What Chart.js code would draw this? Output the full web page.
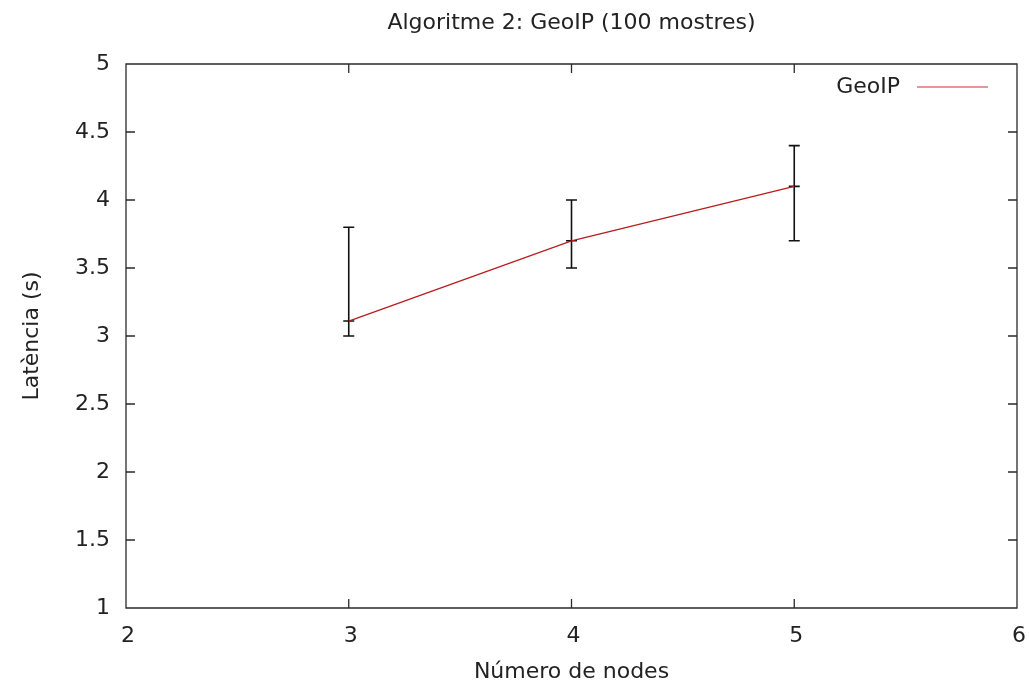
<!DOCTYPE html>
<html>
<head>
<meta charset="utf-8">
<script src="https://cdn.jsdelivr.net/npm/chart.js@4.4.1/dist/chart.umd.min.js"></script>
<style>
  html, body { margin: 0; padding: 0; background: #ffffff; }
  #wrap { width: 1029px; height: 689px; }
</style>
</head>
<body>
<div id="wrap"><canvas id="c" width="1029" height="689"></canvas></div>
<script>
// ---- data ----
const nodes = [3, 4, 5];
const latencyMean = [3.11, 3.70, 4.10];
const latencyLow = [3.00, 3.50, 3.70];
const latencyHigh = [3.80, 4.00, 4.40];
const seriesName = 'GeoIP';
const chartTitle = 'Algoritme 2: GeoIP (100 mostres)';
const xTitle = 'Número de nodes';
const yTitle = 'Latència (s)';
const xTicks = [2, 3, 4, 5, 6];
const yTicks = [1, 1.5, 2, 2.5, 3, 3.5, 4, 4.5, 5];

const FONT = "'DejaVu Sans', sans-serif";
const TEXT = '#222222';
const AXIS = '#2a2a2a';
const LINE = '#b81c1c';
const TICKLEN = 9;

const points = nodes.map((n, i) => ({ x: n, y: latencyMean[i] }));

const errorBars = {
  id: 'errorBars',
  beforeDatasetsDraw(chart) {
    const { ctx, scales: { x, y } } = chart;
    ctx.save();
    ctx.strokeStyle = '#111111';
    ctx.lineWidth = 1.6;
    const cap = 5.5;
    nodes.forEach((n, i) => {
      const px = x.getPixelForValue(n);
      const yl = y.getPixelForValue(latencyLow[i]);
      const yh = y.getPixelForValue(latencyHigh[i]);
      const ym = y.getPixelForValue(latencyMean[i]);
      ctx.beginPath();
      ctx.moveTo(px, yl); ctx.lineTo(px, yh);
      ctx.moveTo(px - cap, yl); ctx.lineTo(px + cap, yl);
      ctx.moveTo(px - cap, yh); ctx.lineTo(px + cap, yh);
      ctx.moveTo(px - cap, ym); ctx.lineTo(px + cap, ym);
      ctx.stroke();
    });
    ctx.restore();
  }
};

const frame = {
  id: 'frame',
  afterDraw(chart) {
    const { ctx, chartArea: a, scales: { x, y } } = chart;
    ctx.save();
    // title centred over the plot area
    ctx.fillStyle = TEXT;
    ctx.font = '22px ' + FONT;
    ctx.textAlign = 'center';
    ctx.textBaseline = 'middle';
    ctx.fillText(chartTitle, (a.left + a.right) / 2, 23);

    ctx.strokeStyle = AXIS;
    ctx.lineWidth = 1.3;
    ctx.beginPath();
    ctx.rect(a.left, a.top, a.right - a.left, a.bottom - a.top);
    ctx.stroke();
    ctx.beginPath();
    xTicks.forEach(v => {
      const px = x.getPixelForValue(v);
      if (px <= a.left + 1 || px >= a.right - 1) return;
      ctx.moveTo(px, a.bottom); ctx.lineTo(px, a.bottom - TICKLEN);
      ctx.moveTo(px, a.top); ctx.lineTo(px, a.top + TICKLEN);
    });
    yTicks.forEach(v => {
      const py = y.getPixelForValue(v);
      if (py <= a.top + 1 || py >= a.bottom - 1) return;
      ctx.moveTo(a.left, py); ctx.lineTo(a.left + TICKLEN, py);
      ctx.moveTo(a.right, py); ctx.lineTo(a.right - TICKLEN, py);
    });
    ctx.stroke();
    // legend (gnuplot style: text then line sample)
    const ly = a.top + 23;
    const lineEnd = a.right - 29;
    const lineStart = lineEnd - 71;
    ctx.strokeStyle = '#c83030';
    ctx.lineWidth = 1.2;
    ctx.beginPath();
    ctx.moveTo(lineStart, ly); ctx.lineTo(lineEnd, ly);
    ctx.stroke();
    ctx.fillStyle = TEXT;
    ctx.textAlign = 'right';
    ctx.fillText(seriesName, lineStart - 17, ly);
    ctx.restore();
  }
};

new Chart(document.getElementById('c'), {
  type: 'line',
  data: {
    datasets: [{
      label: seriesName,
      data: points,
      borderColor: LINE,
      borderWidth: 1.3,
      pointRadius: 0,
      tension: 0,
      fill: false
    }]
  },
  options: {
    responsive: false,
    animation: false,
    devicePixelRatio: 1,
    layout: { padding: { left: 0, right: 12, top: 64, bottom: 0 } },
    plugins: {
      legend: { display: false },
      tooltip: { enabled: false },
      title: { display: false }
    },
    scales: {
      x: {
        type: 'linear',
        min: 2, max: 6,
        afterBuildTicks: s => { s.ticks = xTicks.map(v => ({ value: v })); },
        afterFit: s => { s.height = 81; s.paddingLeft = 0; s.paddingRight = 0; },
        grid: { display: false, drawTicks: false },
        border: { display: false },
        ticks: { color: TEXT, font: { family: FONT, size: 22 }, padding: 15, labelOffset: 2, maxRotation: 0,
                 callback: v => String(v) },
        title: { display: true, text: xTitle, color: TEXT, font: { family: FONT, size: 22 }, padding: { top: 0, bottom: 4 } }
      },
      y: {
        type: 'linear',
        min: 1, max: 5,
        afterBuildTicks: s => { s.ticks = yTicks.map(v => ({ value: v })); },
        afterFit: s => { s.width = 126; s.paddingTop = 0; s.paddingBottom = 0; },
        grid: { display: false, drawTicks: false },
        border: { display: false },
        ticks: { color: TEXT, font: { family: FONT, size: 22 }, padding: 16,
                 callback: v => String(v) },
        title: { display: true, text: yTitle, color: TEXT, font: { family: FONT, size: 22 }, padding: { top: 19, bottom: 0 } }
      }
    }
  },
  plugins: [errorBars, frame]
});
</script>
</body>
</html>
